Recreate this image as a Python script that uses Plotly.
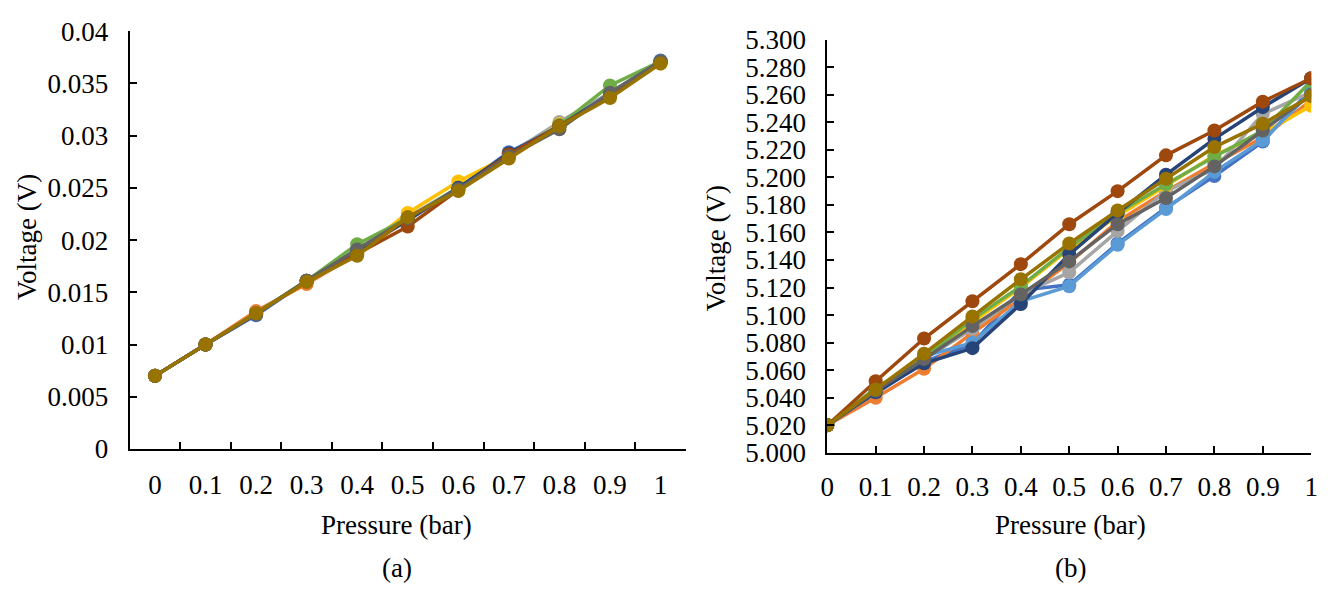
import plotly.graph_objects as go

# ---------------- data ----------------
pressure_labels = ["0", "0.1", "0.2", "0.3", "0.4", "0.5", "0.6", "0.7", "0.8", "0.9", "1"]
pressure = [0, 0.1, 0.2, 0.3, 0.4, 0.5, 0.6, 0.7, 0.8, 0.9, 1.0]

series_colors = ["#4472C4", "#ED7D31", "#A5A5A5", "#FFC000", "#5B9BD5",
                 "#70AD47", "#264478", "#9E480E", "#636363", "#997300"]

# (a) voltage readings
a_s1 = [0.0070, 0.0100, 0.0128, 0.0161, 0.0190, 0.0219, 0.0250, 0.0284, 0.0309, 0.0340, 0.0372]
a_s2 = [0.0070, 0.0100, 0.0132, 0.0158, 0.0187, 0.0220, 0.0248, 0.0281, 0.0310, 0.0338, 0.0370]
a_s3 = [0.0070, 0.0100, 0.0130, 0.0161, 0.0191, 0.0222, 0.0250, 0.0282, 0.0313, 0.0341, 0.0371]
a_s4 = [0.0070, 0.0100, 0.0130, 0.0160, 0.0188, 0.0226, 0.0256, 0.0281, 0.0311, 0.0338, 0.0369]
a_s5 = [0.0070, 0.0100, 0.0129, 0.0161, 0.0190, 0.0220, 0.0249, 0.0283, 0.0310, 0.0339, 0.0371]
a_s6 = [0.0070, 0.0100, 0.0130, 0.0161, 0.0196, 0.0221, 0.0250, 0.0281, 0.0310, 0.0348, 0.0371]
a_s7 = [0.0070, 0.0100, 0.0129, 0.0161, 0.0190, 0.0219, 0.0250, 0.0283, 0.0309, 0.0340, 0.0371]
a_s8 = [0.0070, 0.0100, 0.0130, 0.0160, 0.0187, 0.0213, 0.0248, 0.0282, 0.0309, 0.0338, 0.0370]
a_s9 = [0.0070, 0.0100, 0.0129, 0.0161, 0.0191, 0.0221, 0.0249, 0.0280, 0.0306, 0.0341, 0.0371]
a_s10 = [0.0070, 0.0100, 0.0130, 0.0160, 0.0185, 0.0222, 0.0247, 0.0278, 0.0309, 0.0336, 0.0369]

# (b) voltage readings
b_s1 = [5.020, 5.043, 5.066, 5.079, 5.118, 5.122, 5.152, 5.178, 5.201, 5.226, 5.264]
b_s2 = [5.020, 5.040, 5.061, 5.087, 5.112, 5.138, 5.168, 5.190, 5.210, 5.229, 5.256]
b_s3 = [5.020, 5.044, 5.068, 5.090, 5.115, 5.131, 5.161, 5.190, 5.206, 5.246, 5.262]
b_s4 = [5.020, 5.046, 5.070, 5.095, 5.120, 5.148, 5.172, 5.194, 5.216, 5.232, 5.252]
b_s5 = [5.020, 5.045, 5.070, 5.080, 5.110, 5.121, 5.151, 5.177, 5.204, 5.227, 5.262]
b_s6 = [5.020, 5.047, 5.069, 5.097, 5.121, 5.149, 5.174, 5.195, 5.215, 5.234, 5.270]
b_s7 = [5.020, 5.044, 5.065, 5.076, 5.108, 5.144, 5.174, 5.202, 5.228, 5.251, 5.272]
b_s8 = [5.020, 5.052, 5.083, 5.110, 5.137, 5.166, 5.190, 5.216, 5.234, 5.255, 5.272]
b_s9 = [5.020, 5.045, 5.068, 5.092, 5.115, 5.139, 5.166, 5.185, 5.208, 5.234, 5.260]
b_s10 = [5.020, 5.046, 5.072, 5.099, 5.126, 5.152, 5.176, 5.199, 5.222, 5.239, 5.259]

a_series = [a_s1, a_s2, a_s3, a_s4, a_s5, a_s6, a_s7, a_s8, a_s9, a_s10]
b_series = [b_s1, b_s2, b_s3, b_s4, b_s5, b_s6, b_s7, b_s8, b_s9, b_s10]

# ---------------- figure ----------------
W, H = 1333, 596
FONT = "Liberation Serif"

fig = go.Figure()
for vals, col in zip(a_series, series_colors):
    fig.add_trace(go.Scatter(x=pressure_labels, y=vals, mode="lines+markers",
                             line=dict(color=col, width=3.5),
                             marker=dict(color=col, size=14),
                             xaxis="x", yaxis="y", showlegend=False))
for vals, col in zip(b_series, series_colors):
    fig.add_trace(go.Scatter(x=pressure, y=vals, mode="lines+markers",
                             line=dict(color=col, width=3.5),
                             marker=dict(color=col, size=14),
                             xaxis="x2", yaxis="y2", showlegend=False))

axis_common = dict(showgrid=False, zeroline=False, showline=True, linecolor="black",
                   linewidth=2, ticks="inside", ticklen=7, tickwidth=2, tickcolor="black",
                   tickfont=dict(family=FONT, size=27, color="black"))

fig.update_layout(
    width=W, height=H,
    margin=dict(l=0, r=0, t=0, b=0),
    paper_bgcolor="white", plot_bgcolor="white",
    font=dict(family=FONT, color="black"),
    xaxis=dict(domain=[124 / W, 686 / W], type="category", tickson="boundaries",
               range=[-0.5, 10.5], anchor="y", ticklabelstandoff=11, **axis_common),
    yaxis=dict(domain=[(H - 457) / H, (H - 17) / H], range=[0, 0.04], dtick=0.005,
               anchor="x", ticklabelstandoff=14, **axis_common),
    xaxis2=dict(domain=[829 / W, 1318 / W], range=[0, 1], dtick=0.1, anchor="y2",
                ticklabelstandoff=9, **axis_common),
    yaxis2=dict(domain=[(H - 461) / H, (H - 26) / H], range=[5.0, 5.3], dtick=0.02,
                tickformat=".3f", anchor="x2", ticklabelstandoff=14, **axis_common),
)

def label(text, x, y, angle=0):
    fig.add_annotation(text=text, x=x / W, y=1 - y / H, xref="paper", yref="paper",
                       showarrow=False, xanchor="center", yanchor="middle",
                       textangle=angle, font=dict(family=FONT, size=27, color="black"))

label("Voltage (V)", 20, 234, -90)
label("Voltage (V)", 716, 245, -90)
label("Pressure (bar)", 394, 537)
label("Pressure (bar)", 1075, 537)
label("(a)", 394, 582)
label("(b)", 1075, 582)

fig.write_html("out.html")
